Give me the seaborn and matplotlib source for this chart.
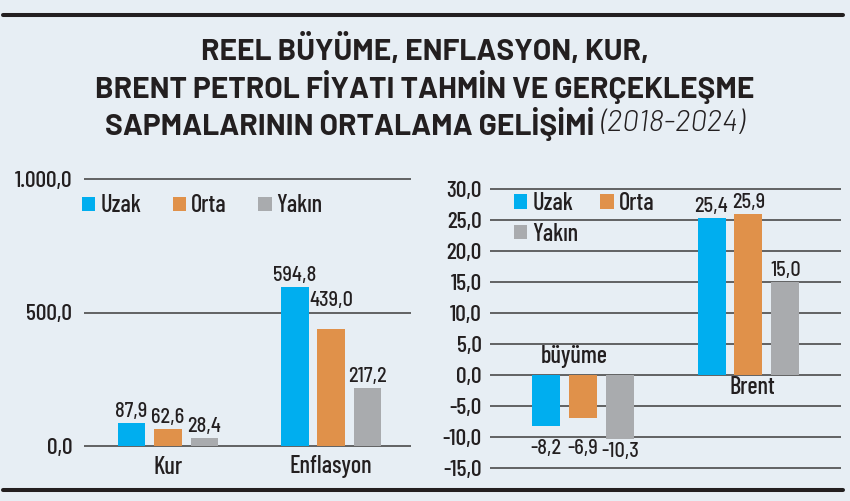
import matplotlib
matplotlib.use("Agg")
import matplotlib.pyplot as plt
import seaborn as sns
import pandas as pd
from matplotlib.ticker import FuncFormatter, FixedLocator
from matplotlib.patches import Patch
from matplotlib.lines import Line2D
from matplotlib import font_manager as fm

# ---------------- data ----------------
horizons = ["Uzak", "Orta", "Yakın"]

left_categories = ["Kur", "Enflasyon"]
left_uzak = [87.9, 594.8]
left_orta = [62.6, 439.0]
left_yakin = [28.4, 217.2]
left_ticks = [0, 500, 1000]

right_categories = ["büyüme", "Brent"]
right_uzak = [-8.2, 25.4]
right_orta = [-6.9, 25.9]
right_yakin = [-10.3, 15.0]
right_ticks = [-15, -10, -5, 0, 5, 10, 15, 20, 25, 30]

title_lines = ["REEL BÜYÜME, ENFLASYON, KUR,",
               "BRENT PETROL FİYATI TAHMİN VE GERÇEKLEŞME",
               "SAPMALARININ ORTALAMA GELİŞİMİ"]
title_period = "(2018-2024)"

# ---------------- style ----------------
colors = {"Uzak": "#00aeef", "Orta": "#e0914a", "Yakın": "#a9abae"}
BG = "#e7eef4"
INK = "#231f20"
GRID = "#4a4a4a"

sns.set_theme(style="white")
names = {f.name for f in fm.fontManager.ttflist}
FONT = "Barlow Condensed"
VAL_FONT = "Barlow Semi Condensed" if "Barlow Semi Condensed" in names else FONT
TITLE_FONT = "Barlow Semi Condensed"
for cand in ["Barlow", "Barlow Semi Condensed"]:
    if cand in names:
        TITLE_FONT = cand
        break
plt.rcParams["font.family"] = [FONT, "DejaVu Sans"]
plt.rcParams["font.weight"] = 500

TICK_FS = 17
VAL_FS = 14.5
LEG_FS = 17.5
CAT_FS = 17.5
TITLE_FS = 21.5

W, H = 850, 501
fig = plt.figure(figsize=(W / 100, H / 100), dpi=100, facecolor=BG)


def rect(x0, x1, ytop, ybot):
    return [x0 / W, 1 - ybot / H, (x1 - x0) / W, (ybot - ytop) / H]


def fmt_num(v):
    s = f"{abs(v):,.1f}".replace(",", "X").replace(".", ",").replace("X", ".")
    return ("-" if v < 0 else "") + s


def long_df(cats, u, o, y):
    rows = []
    for h, vals in zip(horizons, [u, o, y]):
        for c, v in zip(cats, vals):
            rows.append({"category": c, "horizon": h, "value": v})
    return pd.DataFrame(rows)


def label_bars(ax, ticks):
    """Value labels at bar ends; a label that would cross a gridline is moved past it."""
    p0 = ax.transData.transform((0, 0))[1]
    p1 = ax.transData.transform((0, 1))[1]
    ppu = p1 - p0  # pixels per data unit
    span = 20 / ppu  # label height + padding, in data units
    for cont in ax.containers:
        for bar, v in zip(cont.patches, cont.datavalues):
            x = bar.get_x() + bar.get_width() / 2
            y, off = v, 2
            if v >= 0:
                hit = [t for t in ticks if v < t < v + span]
                if hit:
                    y, off = min(hit), 3
                ax.annotate(fmt_num(v), xy=(x, y), xytext=(0, off), textcoords="offset pixels",
                            ha="center", va="bottom", fontsize=VAL_FS, color=INK,
                            family=[VAL_FONT, "DejaVu Sans"], zorder=4)
            else:
                off = -3
                hit = [t for t in ticks if v - span < t < v]
                if hit:
                    y, off = max(hit), -2
                ax.annotate(fmt_num(v), xy=(x, y), xytext=(0, off), textcoords="offset pixels",
                            ha="center", va="top", fontsize=VAL_FS, color=INK,
                            family=[VAL_FONT, "DejaVu Sans"], zorder=4)


def draw_panel(ax, df, cats, ticks, ylim, xlim, tick_pad):
    ax.set_facecolor("none")
    for t in ticks:
        ax.axhline(t, color=GRID, lw=1.2, zorder=0)
    sns.barplot(data=df, x="category", y="value", hue="horizon", order=cats,
                hue_order=horizons, palette=colors, width=0.67, gap=0.24,
                saturation=1, errorbar=None, legend=False, ax=ax, zorder=2,
                linewidth=0)
    ax.set_ylim(*ylim)
    ax.set_xlim(*xlim)
    ax.yaxis.set_major_locator(FixedLocator(ticks))
    ax.yaxis.set_major_formatter(FuncFormatter(lambda v, p: fmt_num(v)))
    ax.tick_params(axis="y", length=0, pad=tick_pad, labelsize=TICK_FS, labelcolor=INK)
    ax.tick_params(axis="x", length=0, labelbottom=False)
    ax.set_xlabel("")
    ax.set_ylabel("")
    for s in ax.spines.values():
        s.set_visible(False)
    label_bars(ax, ticks)


# left panel
axL = fig.add_axes(rect(84, 411, 446 - 1040 * 0.267, 446 + 40 * 0.267))
draw_panel(axL, long_df(left_categories, left_uzak, left_orta, left_yakin),
           left_categories, left_ticks, (-40, 1040), (-0.515, 1.49), 8.6)
for i, c in enumerate(left_categories):
    axL.annotate(c, xy=(i, 0), xytext=(0, -21), textcoords="offset pixels",
                 ha="center", va="center", fontsize=CAT_FS, color=INK)

# right panel
axR = fig.add_axes(rect(490, 841, 375 - 31.5 * 6.2, 375 + 16.5 * 6.2))
draw_panel(axR, long_df(right_categories, right_uzak, right_orta, right_yakin),
           right_categories, right_ticks, (-16.5, 31.5), (-0.564, 1.56), 5.8)
axR.annotate(right_categories[0], xy=(0, 0), xytext=(-9, 18), textcoords="offset pixels",
             ha="center", va="center", fontsize=CAT_FS, color=INK)
axR.annotate(right_categories[1], xy=(1, 0), xytext=(4, -13), textcoords="offset pixels",
             ha="center", va="center", fontsize=CAT_FS, color=INK)

# legends
handles = {h: Patch(facecolor=colors[h], edgecolor="none") for h in horizons}
fig.legend([handles[h] for h in horizons], horizons, ncol=3,
           loc="center left", bbox_to_anchor=(82 / W, 1 - 206 / H),
           frameon=False, fontsize=LEG_FS, handlelength=0.55, handleheight=0.55,
           handletextpad=0.2, columnspacing=1.3, borderpad=0, borderaxespad=0,
           labelcolor=INK)
orderR = ["Uzak", "Yakın", "Orta"]
fig.legend([handles[h] for h in orderR], orderR, ncol=2,
           loc="center left", bbox_to_anchor=(514 / W, 1 - 219 / H),
           frameon=False, fontsize=LEG_FS, handlelength=0.55, handleheight=0.55,
           handletextpad=0.2, columnspacing=0.9, labelspacing=0.3,
           borderpad=0, borderaxespad=0, labelcolor=INK)

# rules
fig.add_artist(Line2D([3 / W, 843 / W], [1 - 15 / H] * 2, color=INK, lw=2.9))
fig.add_artist(Line2D([3 / W, 843 / W], [1 - 489.5 / H] * 2, color=INK, lw=2.9))

# title
tkw = dict(fontsize=TITLE_FS, color=INK, family=[TITLE_FONT, "DejaVu Sans"])
for txt, yc in zip(title_lines[:2], [50, 87]):
    fig.text(0.5, 1 - yc / H, txt, ha="center", va="center", fontweight="bold", **tkw)
t_bold = fig.text(0.5, 1 - 124 / H, title_lines[2] + " ", ha="left", va="center",
                  fontweight="bold", **tkw)
t_it = fig.text(0.5, 1 - 124 / H, title_period, ha="left", va="center",
                fontstyle="italic", fontweight=300, **tkw)
fig.canvas.draw()
r = fig.canvas.get_renderer()
wb = t_bold.get_window_extent(r).width
wi = t_it.get_window_extent(r).width
x0 = (W - (wb + wi)) / 2
t_bold.set_x(x0 / W)
t_it.set_x((x0 + wb) / W)

fig.savefig("out.png", dpi=100, facecolor=BG)
